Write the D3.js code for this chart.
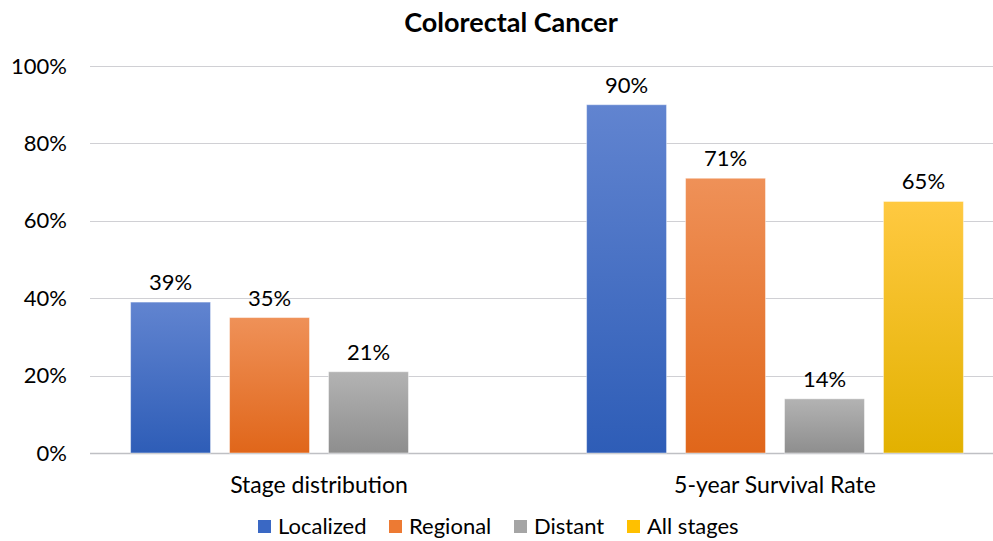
<!DOCTYPE html>
<html>
<head>
<meta charset="utf-8">
<script src="https://cdn.jsdelivr.net/npm/d3@7"></script>
<style>
  html, body { margin: 0; padding: 0; background: #fff; }
  svg { display: block; font-family: Lato, "Open Sans", sans-serif; }
</style>
</head>
<body>
<svg id="chart" width="993" height="541"></svg>
<script>
// Colorectal cancer: stage distribution and 5-year survival by stage
const categories = ["Stage distribution", "5-year Survival Rate"];
const seriesNames = ["Localized", "Regional", "Distant", "All stages"];
const localized = [39, 90];
const regional = [35, 71];
const distant = [21, 14];
const allStages = [null, 65];
const yTicks = [0, 20, 40, 60, 80, 100];

const seriesValues = [localized, regional, distant, allStages];
const colors = {
  "Localized":  { top: "#6184d0", bottom: "#2e5db7", swatch: "#3a68c4" },
  "Regional":   { top: "#ef9158", bottom: "#e0661a", swatch: "#ed7a33" },
  "Distant":    { top: "#b3b3b3", bottom: "#8e8e8e", swatch: "#a5a5a5" },
  "All stages": { top: "#ffc941", bottom: "#e2b100", swatch: "#ffc000" }
};

const svg = d3.select("#chart");
const margin = { left: 91, right: -10, top: 66, bottom: 88 };
const width = 993, height = 541;

const x0 = d3.scaleBand().domain(categories).range([margin.left, width - margin.right]).paddingInner(0).paddingOuter(0);
const x1 = d3.scaleBand().domain(seriesNames).range([0, x0.bandwidth()]).paddingInner(0.192).paddingOuter(0.4);
const y = d3.scaleLinear().domain([0, 100]).range([height - margin.bottom, margin.top]);

// gradients
const defs = svg.append("defs");
seriesNames.forEach((s, i) => {
  const g = defs.append("linearGradient").attr("id", "grad" + i)
    .attr("x1", 0).attr("y1", 0).attr("x2", 0).attr("y2", 1);
  g.append("stop").attr("offset", "0%").attr("stop-color", colors[s].top);
  g.append("stop").attr("offset", "100%").attr("stop-color", colors[s].bottom);
});

// title
svg.append("text").attr("x", 511).attr("y", 32).attr("text-anchor", "middle")
  .attr("font-size", 27).attr("font-weight", "bold").attr("fill", "#000")
  .text("Colorectal Cancer");

// gridlines
svg.append("g").selectAll("line").data(yTicks).join("line")
  .attr("x1", 90).attr("x2", width)
  .attr("y1", d => Math.round(y(d)) + 0.5).attr("y2", d => Math.round(y(d)) + 0.5)
  .attr("stroke", d => d === 0 ? "#bfc0c4" : "#d0d0d4").attr("stroke-width", d => d === 0 ? 1.5 : 1.2);

// y axis labels
const yAxis = d3.axisLeft(y).tickValues(yTicks).tickFormat(d => d + "%").tickSize(0).tickPadding(0);
const ya = svg.append("g").attr("transform", `translate(67,0)`).call(yAxis);
ya.select(".domain").remove();
ya.selectAll("text").attr("font-size", 22).attr("fill", "#000")
  .attr("font-family", "Lato, 'Open Sans', sans-serif");

// bars
const groups = svg.append("g").selectAll("g").data(categories).join("g")
  .attr("transform", d => `translate(${x0(d)},0)`);
groups.each(function(cat, ci) {
  const g = d3.select(this);
  const data = seriesNames.map((s, si) => ({ s, si, v: seriesValues[si][ci] })).filter(d => d.v != null);
  g.selectAll("rect").data(data).join("rect")
    .attr("x", d => x1(d.s))
    .attr("y", d => y(d.v))
    .attr("width", x1.bandwidth())
    .attr("height", d => y(0) - y(d.v))
    .attr("fill", d => `url(#grad${d.si})`)
    .attr("stroke", "#ffffff").attr("stroke-opacity", 0.45).attr("stroke-width", 1);
  g.selectAll("text.val").data(data).join("text").attr("class", "val")
    .attr("x", d => x1(d.s) + x1.bandwidth() / 2)
    .attr("y", d => y(d.v) - 12)
    .attr("text-anchor", "middle").attr("font-size", 22).attr("fill", "#000")
    .text(d => d.v + "%");
});

// category labels
const xAxis = d3.axisBottom(x0).tickSize(0).tickPadding(0);
const xa = svg.append("g").attr("transform", `translate(0,${y(0) + 24})`).call(xAxis);
xa.select(".domain").remove();
xa.selectAll("text").attr("font-size", 23).attr("fill", "#000")
  .attr("font-family", "Lato, 'Open Sans', sans-serif");

// legend
const legendItems = [
  { s: "Localized", x: 258 },
  { s: "Regional", x: 389 },
  { s: "Distant", x: 514 },
  { s: "All stages", x: 627 }
];
const lg = svg.append("g").selectAll("g").data(legendItems).join("g")
  .attr("transform", d => `translate(${d.x},${520})`);
lg.append("rect").attr("width", 13).attr("height", 13).attr("fill", d => colors[d.s].swatch);
lg.append("text").attr("x", 20).attr("y", 14).attr("font-size", 22).attr("fill", "#000")
  .text(d => d.s);
</script>
</body>
</html>
